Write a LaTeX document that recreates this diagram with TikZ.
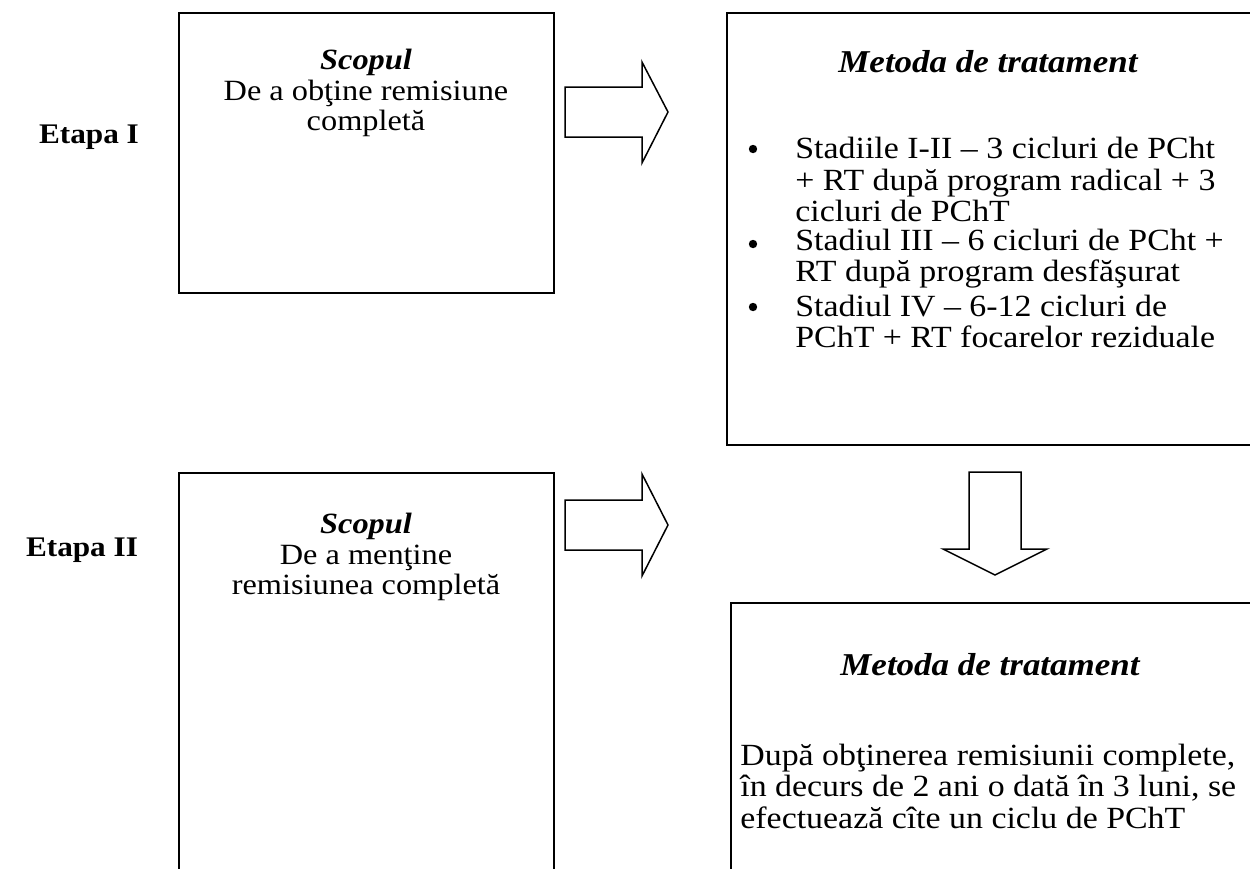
\documentclass[tikz,border=0pt]{standalone}
\usepackage{fontspec}
\setmainfont{Liberation Serif}[FakeStretch=1.1]
\begin{document}
\begin{tikzpicture}[x=0.5pt,y=-0.5pt,
  boxline/.style={draw=black,line width=0.55pt},
  blockarrow/.style={draw=black,line width=0.75pt,fill=white,line join=miter},
  txt/.style={inner sep=0pt,font=\fontsize{15.4}{15.75}\selectfont},
  ctxt/.style={inner sep=0pt,font=\fontsize{14.7}{15.2}\selectfont},
  bul/.style={circle,fill=black,inner sep=0pt,minimum size=4.2pt},
  etapa/.style={inner sep=0pt,font=\fontsize{14.2}{16}\selectfont\bfseries},
  head/.style={inner sep=0pt,font=\fontsize{15.9}{18}\selectfont\bfseries\itshape}]
\clip (0,0) rectangle (1250,869);
\fill[white] (0,0) rectangle (1250,869);

% labels
\node[etapa] (e1) at (89,137) {Etapa I};
\node[etapa] (e2) at (82,550) {Etapa II};

% boxes
\draw[boxline] (179,13) rectangle (554,293);
\draw[boxline] (727,13) rectangle (1275,445);
\draw[boxline] (179,473) rectangle (554,900);
\draw[boxline] (731,603) rectangle (1275,900);

% box 1 text
\node[ctxt,align=center] (t1) at (366,93) {\textbf{\textit{Scopul}}\\De a obţine remisiune\\completă};

% box 2 text
\node[head] (m1) at (988,62) {Metoda de tratament};
\node[bul] (bu1) at (753,149) {};
\node[bul] (bu2) at (753,244) {};
\node[bul] (bu3) at (753,307) {};
\node[txt,align=left,anchor=west] (i1) at (795,179.5) {Stadiile I-II – 3 cicluri de PCht\\+ RT după program radical + 3\\cicluri de PChT};
\node[txt,align=left,anchor=west] (i2) at (795,258.5) {Stadiul III – 6 cicluri de PCht +\\RT după program desfăşurat};
\node[txt,align=left,anchor=west] (i3) at (795,321.5) {Stadiul IV – 6-12 cicluri de\\PChT + RT focarelor reziduale};

% box 3 text
\node[ctxt,align=center] (t3) at (366,557) {\textbf{\textit{Scopul}}\\De a menţine\\remisiunea completă};

% box 4 text
\node[head] (m2) at (990,665) {Metoda de tratament};
\node[txt,align=left,anchor=west] (t4) at (740,786) {După obţinerea remisiunii complete,\\în decurs de 2 ani o dată în 3 luni, se\\efectuează cîte un ciclu de PChT};

% block arrows
\draw[blockarrow] (565,87) -- (642,87) -- (642,62) -- (668,112) -- (642,163) -- (642,137) -- (565,137) -- cycle;
\draw[blockarrow] (565,500) -- (642,500) -- (642,474) -- (668,525) -- (642,576) -- (642,550) -- (565,550) -- cycle;
\draw[blockarrow] (969,472) -- (1021,472) -- (1021,549) -- (1047,549) -- (995,575) -- (943,549) -- (969,549) -- cycle;
\end{tikzpicture}
\end{document}
